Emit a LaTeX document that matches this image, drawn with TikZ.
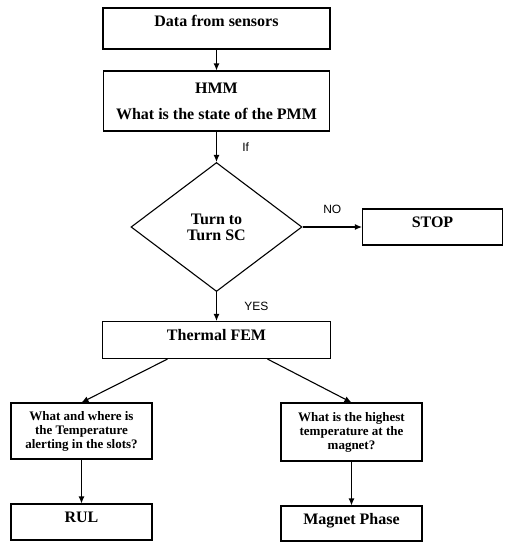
\documentclass[tikz,border=0pt]{standalone}
\usepackage{fontspec}
\setmainfont{Liberation Serif}
\newfontfamily\lblfont{Liberation Sans}
\usetikzlibrary{shapes.geometric, positioning, arrows.meta}

\begin{document}
\begin{tikzpicture}[x=1pt, y=1pt, on grid, auto, line width=1.1pt,
    >={Latex[length=7pt,width=6pt]},
    box/.style={draw, inner sep=0pt, text height=18pt, text depth=18pt,
        font=\bfseries\fontsize{16}{16}\selectfont},
    qbox/.style={draw, inner sep=0pt, align=center, minimum width=141pt,
        font=\bfseries\fontsize{13}{14}\selectfont},
    lbl/.style={font=\lblfont\fontsize{12}{12}\selectfont}]
    \useasboundingbox (0,0) rectangle (510,-550);

    \node[box, minimum width=227pt, text depth=23pt] (data) at (216.5,-28.5) {Data from sensors};
    \node[draw, align=center, minimum width=226pt, minimum height=60pt,
        font=\bfseries\fontsize{16}{18}\selectfont, below=72.5pt of data] (hmm)
        {HMM\\[8pt]What is the state of the PMM};
    \node[diamond, draw, inner sep=0pt, minimum width=171pt, minimum height=129pt, align=center,
        font=\bfseries\fontsize{16}{16}\selectfont, below=126pt of hmm] (cond) {Turn to\\Turn SC};
    \node[box, minimum width=140pt, right=216pt of cond] (stop) {STOP};
    \node[box, minimum width=228pt, text height=19pt, below=113pt of cond] (fem) {Thermal FEM};
    \node[qbox, minimum height=56pt, below left=91pt and 135pt of fem] (slots)
        {What and where is\\the Temperature\\alerting in the slots?};
    \node[qbox, minimum height=58pt, below right=92pt and 135pt of fem] (highq)
        {What is the highest\\temperature at the\\magnet?};
    \node[box, minimum width=141pt, below=91pt of slots] (rul) {RUL};
    \node[box, minimum width=141pt, text depth=17pt, below=91.5pt of highq] (magnet) {Magnet Phase};

    \path[->]
        (data) edge (hmm)
        (hmm) edge node[lbl, right=22pt] {If} (cond)
        (cond) edge node[lbl, above=10pt] {NO} (stop)
        (cond) edge node[lbl, right=24pt] {YES} (fem)
        ([xshift=-49pt]fem.south) edge (slots.north)
        ([xshift=51pt]fem.south) edge (highq.north)
        (slots) edge (rul)
        (highq) edge (magnet);
\end{tikzpicture}
\end{document}
